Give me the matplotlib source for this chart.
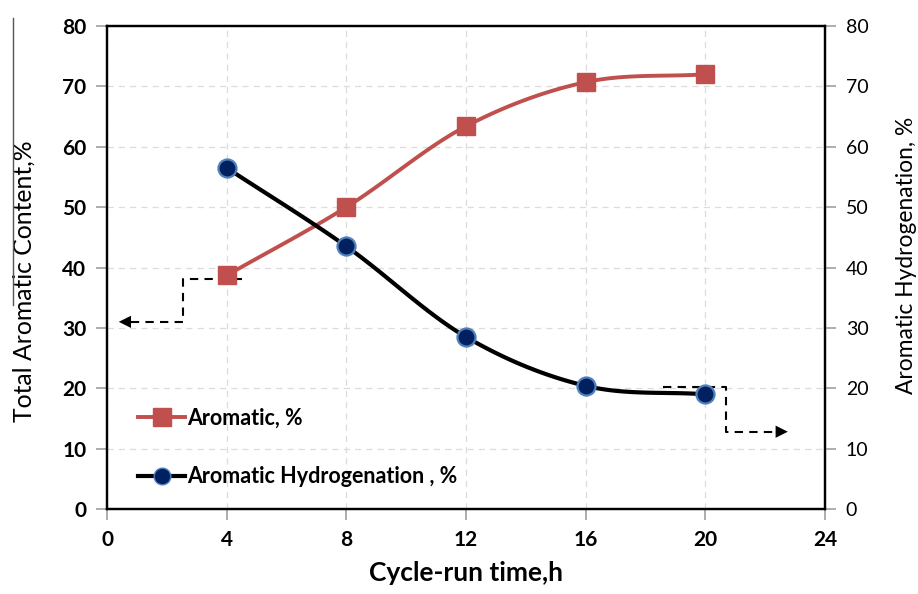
import numpy as np
import matplotlib.pyplot as plt
from matplotlib.lines import Line2D

# datos
hours = [4, 8, 12, 16, 20]
aromatic = [38.7, 50.0, 63.4, 70.7, 72.0]
hydrogenation = [56.5, 43.5, 28.5, 20.4, 19.0]

x_ticks = [0, 4, 8, 12, 16, 20, 24]
y_ticks = [0, 10, 20, 30, 40, 50, 60, 70, 80]

# flechas punteadas (anotaciones)
left_arrow = [(4.5, 38.1), (2.55, 38.1), (2.55, 31.0), (0.3, 31.0)]
right_arrow = [(18.6, 20.2), (20.7, 20.2), (20.7, 12.8), (22.85, 12.8)]

plt.rcParams['font.family'] = ['Lato', 'DejaVu Sans']


def smooth(xs, ys, n=30):
    # curva tipo Catmull-Rom, como la linea suavizada de Excel
    x = np.asarray(xs, float)
    y = np.asarray(ys, float)
    px = np.concatenate([[2 * x[0] - x[1]], x, [2 * x[-1] - x[-2]]])
    py = np.concatenate([[2 * y[0] - y[1]], y, [2 * y[-1] - y[-2]]])
    outx, outy = [], []
    t = np.linspace(0, 1, n)
    for i in range(1, len(px) - 2):
        for p, out in ((px, outx), (py, outy)):
            p0, p1, p2, p3 = p[i - 1], p[i], p[i + 1], p[i + 2]
            out.extend(0.5 * (2 * p1 + (-p0 + p2) * t
                              + (2 * p0 - 5 * p1 + 4 * p2 - p3) * t ** 2
                              + (-p0 + 3 * p1 - 3 * p2 + p3) * t ** 3))
    return outx, outy


fig = plt.figure(figsize=(9.18, 5.94), dpi=100)
ax = fig.add_axes([0.1166, 0.1431, 0.7821, 0.8131])
ax2 = ax.twinx()

red = '#C0504D'
sx, sy = smooth(hours, aromatic)
ax.plot(sx, sy, color=red, lw=2.8, zorder=3)
ax.plot(hours, aromatic, ls='none', marker='s', ms=13, color=red, zorder=4)

hx, hy = smooth(hours, hydrogenation)
ax2.plot(hx, hy, color='black', lw=3.0, zorder=3)
ax2.plot(hours, hydrogenation, ls='none', marker='o', ms=13,
         markerfacecolor='#002060', markeredgecolor='#4F81BD', markeredgewidth=1.6, zorder=4)

for path in (left_arrow, right_arrow):
    xs, ys = zip(*path)
    back = 0.35 if xs[-1] < xs[-2] else -0.35
    ax.plot(xs[:-1] + (xs[-1] + back,), ys, color='black', ls=(0, (4, 3)), lw=1.5, zorder=2)
    ax.annotate('', xy=path[-1], xytext=(xs[-1] + back * 1.5, ys[-1]),
                arrowprops=dict(arrowstyle='-|>', mutation_scale=22, color='black', lw=0))

ax.set_xlim(0, 24)
ax.set_ylim(0, 80)
ax2.set_ylim(0, 80)
ax.set_xticks(x_ticks)
ax.set_yticks(y_ticks)
ax2.set_yticks(y_ticks)

ax.grid(True, color='#dcdcdc', ls=(0, (5, 4)), lw=0.9)
ax.set_axisbelow(True)

for a in (ax, ax2):
    for s in a.spines.values():
        s.set_linewidth(1.6)
        s.set_color('black')

ax.tick_params(axis='both', direction='out', length=8, color='#a0a0a0', width=1.2, pad=7)
ax2.tick_params(axis='y', direction='out', length=8, color='#a0a0a0', width=1.2, pad=7,
                labelsize=14)
for lab in ax.get_xticklabels() + ax.get_yticklabels():
    lab.set_fontsize(15)
    lab.set_fontweight('bold')

ax.set_xlabel('Cycle-run time,h', fontsize=19, fontweight='bold', labelpad=8)
ax.set_ylabel('Total Aromatic Content,%', fontsize=17.8)
ax.yaxis.set_label_coords(-0.1, 0.472)
ax2.set_ylabel('Aromatic Hydrogenation, %', fontsize=16.4)
ax2.yaxis.set_label_coords(1.099, 0.526)

handles = [
    Line2D([], [], color=red, lw=2.8, marker='s', ms=13),
    Line2D([], [], color='black', lw=3.0, marker='o', ms=12,
           markerfacecolor='#002060', markeredgecolor='#4F81BD'),
]
ax.legend(handles, ['Aromatic, %', 'Aromatic Hydrogenation , %'], loc='lower left',
          bbox_to_anchor=(0.043, 0.045), borderaxespad=0, borderpad=0, frameon=False,
          handlelength=2.2, handletextpad=0.1, labelspacing=1.75,
          prop={'weight': 'bold', 'size': 15.5})

# linea suelta a la izquierda del original
fig.add_artist(Line2D([13 / 918, 13 / 918], [1 - 18 / 594, 1 - 305 / 594],
                      color='#555555', lw=1.0))

fig.savefig('out.png', dpi=100)
